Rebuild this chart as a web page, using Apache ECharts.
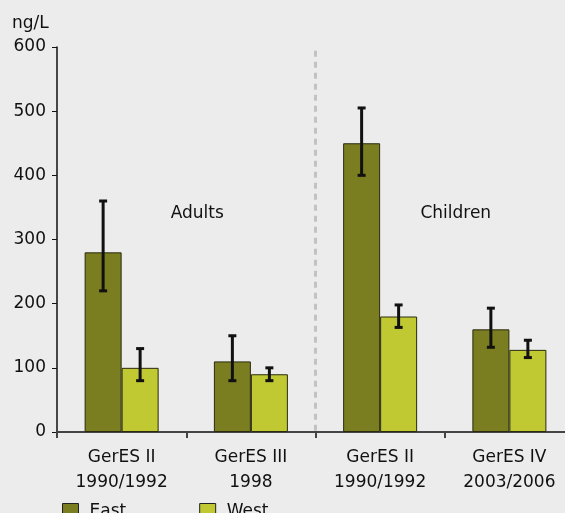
<!DOCTYPE html>
<html><head><meta charset="utf-8">
<script src="https://cdn.jsdelivr.net/npm/echarts@6/dist/echarts.min.js"></script>
<style>html,body{margin:0;padding:0;background:#ececec;overflow:hidden}#c{width:574px;height:513px}</style>
</head><body><div id="c"></div>
<script>
const categories = ['GerES II\n1990/1992', 'GerES III\n1998', 'GerES II\n1990/1992', 'GerES IV\n2003/2006'];
const eastValues = [280, 110, 450, 160];
const westValues = [100, 90, 180, 128];
const eastLow = [220, 80, 400, 132];
const eastHigh = [360, 150, 505, 193];
const westLow = [80, 80, 163, 116];
const westHigh = [130, 100, 198, 143];
const groupLabels = ['Adults', 'Children'];
const groupStart = [0, 2];
const yTicks = [0, 100, 200, 300, 400, 500, 600];

const FONT = 'DejaVu Sans';
const BW = 37;
function errRender(offset) {
  return function (params, api) {
    const c = api.coord([api.value(0), api.value(1)]);
    const h = api.coord([api.value(0), api.value(2)]);
    const x = c[0] + offset;
    const cap = 4;
    const st = { stroke: '#111', lineWidth: 3 };
    return { type: 'group', children: [
      { type: 'line', shape: { x1: x, y1: c[1], x2: x, y2: h[1] }, style: st },
      { type: 'line', shape: { x1: x - cap, y1: c[1], x2: x + cap, y2: c[1] }, style: st },
      { type: 'line', shape: { x1: x - cap, y1: h[1], x2: x + cap, y2: h[1] }, style: st }
    ]};
  };
}
function groupRender(params, api) {
  const i = api.value(0);
  const band = api.size([1, 0])[0];
  const p = api.coord([i, 340]);
  const children = [
    { type: 'text', x: p[0] + band / 2 + 11, y: p[1] + 0, style: { text: groupLabels[params.dataIndex], font: '17px "DejaVu Sans"', fill: '#111', align: 'center', verticalAlign: 'middle' } }
  ];
  if (params.dataIndex === 1) {
    const top = api.coord([i, 594]);
    const bot = api.coord([i, 0]);
    const x = p[0] - band / 2;
    children.push({ type: 'line', shape: { x1: x, y1: top[1], x2: x, y2: bot[1] }, style: { stroke: '#c2c2c2', lineWidth: 3, lineDash: [6, 5] } });
  }
  return { type: 'group', children };
}
const chart = echarts.init(document.getElementById('c'), null, { renderer: 'canvas' });
chart.setOption({
  backgroundColor: '#ececec',
  animation: false,
  textStyle: { fontFamily: FONT },
  grid: { left: 57, top: 47, right: 0, height: 385, containLabel: false },
  legend: {
    left: 57, top: 498, itemWidth: 16, itemHeight: 16, itemGap: 73,
    icon: 'rect',
    data: [{ name: 'East', itemStyle: { borderColor: '#222', borderWidth: 1 } }, { name: 'West', itemStyle: { borderColor: '#222', borderWidth: 1 } }],
    textStyle: { fontFamily: FONT, fontSize: 17, color: '#111', padding: [0, 0, 0, 6] }
  },
  xAxis: {
    type: 'category', data: categories,
    axisLine: { lineStyle: { color: '#444', width: 2 } },
    axisTick: { show: true, length: 6, lineStyle: { color: '#444', width: 2 } },
    axisLabel: { fontFamily: FONT, fontSize: 17, color: '#111', lineHeight: 25, margin: 13, interval: 0 },
    splitLine: { show: false }
  },
  yAxis: {
    type: 'value', min: 0, max: 600, interval: 100,
    axisLine: { show: true, lineStyle: { color: '#111', width: 1.5 } },
    axisTick: { show: true, length: 5, lineStyle: { color: '#111' } },
    axisLabel: { fontFamily: FONT, fontSize: 17, color: '#111', margin: 11,
      formatter: v => yTicks.includes(v) ? String(v) : '' },
    splitLine: { show: false }
  },
  graphic: [
    { type: 'text', left: 12, top: 15, style: { text: 'ng/L', font: '17px "DejaVu Sans"', fill: '#111' } }
  ],
  series: [
    { type: 'custom', renderItem: groupRender, data: groupStart.map(i => [i]), z: 1, silent: true },
    { name: 'East', type: 'bar', data: eastValues, barWidth: BW, barGap: '0%',
      itemStyle: { color: '#7a7d20', borderColor: '#2a2a10', borderWidth: 1 } },
    { name: 'West', type: 'bar', data: westValues, barWidth: BW, barGap: '0%',
      itemStyle: { color: '#c0c832', borderColor: '#2a2a10', borderWidth: 1 } },
    { type: 'custom', renderItem: errRender(-BW / 2), data: categories.map((c, i) => [i, eastLow[i], eastHigh[i]]), z: 10, silent: true },
    { type: 'custom', renderItem: errRender(BW / 2), data: categories.map((c, i) => [i, westLow[i], westHigh[i]]), z: 10, silent: true }
  ]
});
</script></body></html>
